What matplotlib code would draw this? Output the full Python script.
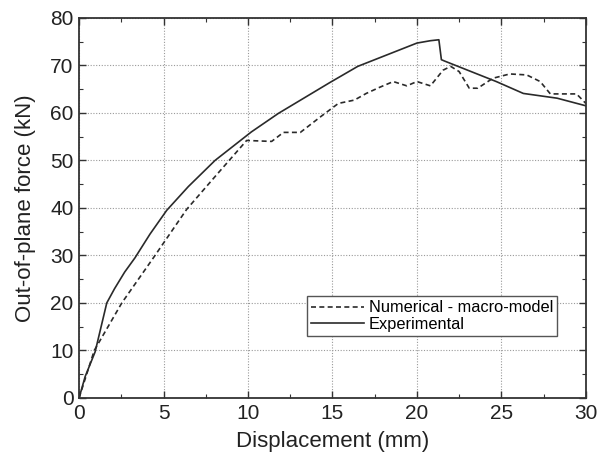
import matplotlib
matplotlib.use("Agg")
import matplotlib.pyplot as plt
from matplotlib.ticker import MultipleLocator

plt.rcParams['font.family'] = ['Liberation Sans', 'DejaVu Sans']

# Numerical - macro-model (dashed)
num_x = [0, 0.9, 2.53, 4.4, 6.37, 8.05, 9.92, 11.4, 12.1, 13.1, 14.3, 15.35,
         16.3, 17.0, 17.8, 18.6, 19.4, 20.0, 20.8, 21.55, 22.0, 22.5, 23.1, 23.6,
         24.5, 25.5, 26.5, 27.3, 27.9, 29.45, 30.0]
num_y = [0, 10.0, 20.0, 29.5, 39.7, 46.6, 54.2, 54.0, 55.9, 55.9, 59.2, 62.0,
         62.7, 64.1, 65.4, 66.6, 65.7, 66.6, 65.7, 69.0, 69.8, 68.7, 65.2, 65.2,
         67.3, 68.2, 68.0, 66.6, 64.0, 64.0, 62.0]

# Experimental (solid)
exp_x = [0, 0.36, 0.95, 1.64, 2.1, 2.7, 3.31, 4.2, 5.19, 6.47, 8.05, 10.2, 11.8,
         14.85, 16.5, 20.0, 20.8, 21.3, 21.45, 21.65, 24.7, 26.3, 28.3, 30.0]
exp_y = [0, 4.5, 9.7, 20.0, 23.0, 26.5, 29.5, 34.5, 39.5, 44.5, 50.0, 56.0, 59.9,
         66.4, 69.8, 74.7, 75.2, 75.4, 71.2, 70.9, 66.6, 64.1, 63.1, 61.5]

x_label = "Displacement (mm)"
y_label = "Out-of-plane force (kN)"
series_labels = ["Numerical - macro-model", "Experimental"]

fig = plt.figure(figsize=(5.99, 4.59), dpi=100)
ax = fig.add_axes([0.132, 0.133, 0.846, 0.828])

line_col = "#2a2a2a"
ax.plot(num_x, num_y, linestyle=(0, (3, 2)), color=line_col, lw=1.2, label=series_labels[0])
ax.plot(exp_x, exp_y, linestyle='-', color=line_col, lw=1.2, label=series_labels[1])

ax.set_xlim(0, 30)
ax.set_ylim(0, 80)
ax.xaxis.set_major_locator(MultipleLocator(5))
ax.xaxis.set_minor_locator(MultipleLocator(2.5))
ax.yaxis.set_major_locator(MultipleLocator(10))
ax.yaxis.set_minor_locator(MultipleLocator(5))
ax.grid(True, which='major', linestyle=(0, (1, 1.5)), color='#9a9a9a', lw=0.8)

ax.tick_params(which='both', direction='in', top=True, right=True,
               colors='#333333', labelcolor='#222222')
ax.tick_params(which='major', length=5, width=1, labelsize=15)
ax.tick_params(axis='x', which='major', pad=4)
ax.tick_params(axis='y', which='major', pad=4)
ax.tick_params(which='minor', length=3, width=0.8)
for s in ax.spines.values():
    s.set_linewidth(1.3)
    s.set_color('#333333')

ax.set_xlabel(x_label, fontsize=16, color='#222222', labelpad=6)
ax.set_ylabel(y_label, fontsize=16, color='#222222', labelpad=10)

leg = ax.legend(loc='lower left', bbox_to_anchor=(0.45, 0.163), fontsize=11.8,
                frameon=True, fancybox=False, edgecolor='#555555', framealpha=1,
                handlelength=3.2, handletextpad=0.3, borderpad=0.25,
                labelspacing=0.1, borderaxespad=0)
leg.get_frame().set_linewidth(1.0)

fig.savefig("out.png", dpi=100)
